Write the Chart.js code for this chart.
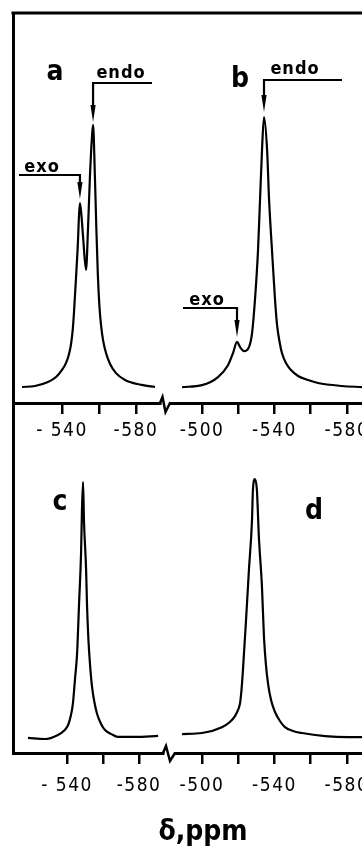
<!DOCTYPE html>
<html>
<head>
<meta charset="utf-8">
<script src="https://cdn.jsdelivr.net/npm/chart.js@4.4.0/dist/chart.umd.min.js"></script>
<style>
  body { margin: 0; background: #fff; width: 362px; height: 850px; position: relative; overflow: hidden; }
  canvas { position: absolute; }
</style>
</head>
<body>
<canvas id="chartA" width="362" height="460" style="left:0;top:0"></canvas>
<canvas id="chartB" width="202" height="460" style="left:160px;top:0"></canvas>
<canvas id="chartC" width="362" height="447" style="left:0;top:403px"></canvas>
<canvas id="chartD" width="199" height="407" style="left:163px;top:403px"></canvas>
<script>
// chemical shift (ppm) and relative intensity
const shiftA = [-518.4, -525.4, -532.4, -536.8, -540.0, -542.2, -543.8, -544.9, -545.8, -546.5, -547.6, -548.6, -549.2, -549.7, -550.5, -551.4, -553.0, -554.1, -555.1, -556.2, -556.8, -557.8, -558.6, -559.4, -560.2, -561.1, -562.2, -563.8, -566.0, -569.2, -574.1, -583.2, -590.3];
const intensityA = [0, 0.4, 1.9, 3.8, 6.5, 9.2, 12.6, 16.4, 21.8, 28.6, 42.0, 55.0, 65.6, 70.2, 65.6, 57.3, 44.7, 61.1, 80.2, 95.4, 100, 80.2, 59.9, 42.7, 31.3, 23.7, 17.9, 13.0, 8.8, 5.3, 2.7, 0.8, 0];

const shiftB = [-489.0, -500.0, -508.8, -514.3, -517.1, -519.3, -521.0, -523.2, -525.9, -527.6, -529.2, -530.9, -532.0, -533.1, -534.2, -535.9, -537.0, -538.6, -540.3, -541.4, -542.8, -544.1, -546.3, -549.1, -553.0, -558.5, -564.0, -577.2, -588.3];
const intensityB = [0, 0.7, 3.7, 8.1, 12.6, 16.7, 14.8, 13.3, 14.8, 20.0, 32.2, 50.7, 69.3, 87.8, 100, 87.8, 69.3, 50.7, 32.2, 23.0, 16.7, 12.6, 8.9, 6.3, 4.1, 2.6, 1.5, 0.4, 0];

const shiftC = [-518.3, -527.8, -535.0, -538.3, -540.6, -542.2, -543.3, -544.4, -545.6, -546.7, -547.8, -548.3, -548.9, -549.4, -550.6, -551.1, -551.9, -552.8, -553.9, -555.3, -556.7, -558.9, -561.1, -564.4, -568.3, -577.8, -590.6];
const intensityC = [-0.4, -0.8, 0.8, 2.4, 4.7, 8.6, 13.3, 22.4, 32.9, 52.5, 72.2, 89.0, 100, 85.1, 65.5, 51.8, 38.0, 28.2, 19.6, 13.3, 9.0, 5.1, 2.7, 1.2, 0, 0, 0.4];

const shiftD = [-489.0, -500.0, -511.0, -515.4, -518.2, -519.9, -521.0, -521.8, -522.6, -524.3, -525.9, -527.6, -528.1, -529.2, -530.3, -531.4, -533.1, -534.2, -535.3, -536.4, -538.1, -540.3, -543.0, -545.8, -550.2, -555.2, -567.9, -580.6, -588.3];
const intensityD = [0.4, 0.8, 3.1, 5.1, 7.4, 9.8, 12.5, 17.6, 25.4, 44.9, 64.5, 84.0, 95.7, 100, 95.7, 77.3, 57.8, 38.3, 27.3, 20.3, 13.7, 9.0, 5.5, 3.1, 1.6, 0.8, -0.4, -0.8, -0.8];

// peak assignments (ppm)
const peaksA = { exo: -549.7, endo: -556.8 };
const peaksB = { exo: -519.3, endo: -534.2 };

// axis ticks
const ticksLeft = [-540, -560, -580];
const tickLabelsLeft = ['- 540', '', '-580'];
const ticksRight = [-500, -520, -540, -560, -580];
const tickLabelsRight = ['-500', '', '-540', '', '-580'];

const ink = '#000';
const family = "'DejaVu Sans Condensed', 'DejaVu Sans'";

function drawArrow(ctx, fromX, lineY, tipX, tipY) {
    const head = 17;
    ctx.lineWidth = 2.2;
    ctx.beginPath();
    ctx.moveTo(fromX, lineY);
    ctx.lineTo(tipX, lineY);
    ctx.lineTo(tipX, tipY - head + 2);
    ctx.stroke();
    ctx.beginPath();
    ctx.moveTo(tipX - 2.6, tipY - head);
    ctx.lineTo(tipX + 2.6, tipY - head);
    ctx.lineTo(tipX, tipY);
    ctx.closePath();
    ctx.fill();
}

// frame lines, axis break, arrows and letters (page coords, shifted by canvas offset)
function makeNotes(p) {
    return {
        id: 'notes',
        beforeDraw(chart) {
            // wider spacing for the tick numbers
            chart.ctx.letterSpacing = '1.5px';
        },
        afterDraw(chart) {
            const ctx = chart.ctx;
            const ox = p.left, oy = p.top;
            ctx.letterSpacing = '0px';
            ctx.save();
            ctx.strokeStyle = ink;
            ctx.fillStyle = ink;
            if (p.topRule) {
                ctx.lineWidth = 3;
                ctx.beginPath();
                ctx.moveTo(chart.chartArea.left - 1.5, chart.chartArea.top);
                ctx.lineTo(chart.width, chart.chartArea.top);
                ctx.stroke();
            }
            if (p.breakMark) {
                ctx.lineWidth = 2.5;
                ctx.lineJoin = 'miter';
                ctx.beginPath();
                p.breakMark.forEach((pt, i) => {
                    if (i === 0) ctx.moveTo(pt[0] - ox, pt[1] - oy);
                    else ctx.lineTo(pt[0] - ox, pt[1] - oy);
                });
                ctx.stroke();
            }
            (p.arrows || []).forEach(a => {
                const tipX = chart.scales.x.getPixelForValue(a.shift);
                drawArrow(ctx, a.fromX - ox, a.lineY - oy, tipX, a.tipY - oy);
            });
            ctx.textAlign = 'center';
            ctx.textBaseline = 'alphabetic';
            (p.texts || []).forEach(t => {
                ctx.font = t.font;
                ctx.letterSpacing = t.spacing || '0px';
                ctx.fillText(t.text, t.x - ox, t.y - oy);
            });
            ctx.restore();
        }
    };
}

function makePanel(p) {
    return new Chart(document.getElementById(p.id), {
        type: 'line',
        data: {
            datasets: [{
                data: p.shift.map((s, i) => ({ x: s, y: p.intensity[i] })),
                borderColor: ink,
                borderWidth: 2.2,
                pointRadius: 0,
                cubicInterpolationMode: 'monotone',
                fill: false
            }]
        },
        options: {
            responsive: false,
            animation: false,
            events: [],
            layout: { padding: p.padding },
            plugins: { legend: { display: false }, tooltip: { enabled: false } },
            scales: {
                x: {
                    type: 'linear',
                    reverse: true,
                    min: p.xMin,
                    max: p.xMax,
                    afterBuildTicks: s => { s.ticks = p.ticks.map(v => ({ value: v })); },
                    afterFit: s => { s.height = 57; s.paddingLeft = 0; s.paddingRight = 0; },
                    grid: { display: true, drawOnChartArea: false, drawTicks: true, tickLength: 11, lineWidth: 2.5, color: ink },
                    border: { display: true, width: 3, color: ink },
                    ticks: {
                        autoSkip: false,
                        maxRotation: 0,
                        color: ink,
                        padding: p.tickPad,
                        font: { family: family, size: 19 },
                        callback: (v, i) => p.tickLabels[i]
                    }
                },
                y: {
                    min: p.yMin,
                    max: p.yMax,
                    afterFit: s => { s.width = 0; s.paddingTop = 0; s.paddingBottom = 0; },
                    ticks: { display: false },
                    grid: { display: false },
                    border: { display: p.leftAxis, width: 3, color: ink }
                }
            }
        },
        plugins: [makeNotes(p)]
    });
}

const letterFont = 'bold 28px ' + family;
const noteFont = 'bold 18px ' + family;

makePanel({
    id: 'chartA', left: 0, top: 0,
    shift: shiftA, intensity: intensityA,
    xMin: -593.0, xMax: -513.5, yMin: -6.1, yMax: 142.7,
    ticks: ticksLeft, tickLabels: tickLabelsLeft, tickPad: 6,
    padding: { left: 13, top: 13, right: 202, bottom: 0 },
    leftAxis: true, topRule: true,
    breakMark: [[160, 403], [162.5, 397], [165.5, 412], [170, 403]],
    arrows: [
        { shift: peaksA.endo, fromX: 152, lineY: 83, tipY: 122 },
        { shift: peaksA.exo, fromX: 19, lineY: 175, tipY: 199 }
    ],
    texts: [
        { text: 'a', x: 55, y: 80, font: letterFont },
        { text: 'endo', x: 121, y: 78, font: noteFont, spacing: '1px' },
        { text: 'exo', x: 42, y: 172, font: noteFont, spacing: '1px' }
    ]
});

makePanel({
    id: 'chartB', left: 160, top: 0,
    shift: shiftB, intensity: intensityB,
    xMin: -588.3, xMax: -482.3, yMin: -5.9, yMax: 138.5,
    ticks: ticksRight, tickLabels: tickLabelsRight, tickPad: 6,
    padding: { left: 10, top: 13, right: 0, bottom: 0 },
    leftAxis: false,
    arrows: [
        { shift: peaksB.endo, fromX: 342, lineY: 80, tipY: 112 },
        { shift: peaksB.exo, fromX: 183, lineY: 308, tipY: 337 }
    ],
    texts: [
        { text: 'b', x: 240, y: 87, font: letterFont },
        { text: 'endo', x: 295, y: 74, font: noteFont, spacing: '1px' },
        { text: 'exo', x: 207, y: 305, font: noteFont, spacing: '1px' }
    ]
});

makePanel({
    id: 'chartC', left: 0, top: 403,
    shift: shiftC, intensity: intensityC,
    xMin: -593.3, xMax: -510.0, yMin: -6.3, yMax: 131.0,
    ticks: ticksLeft, tickLabels: tickLabelsLeft, tickPad: 11,
    padding: { left: 13, top: 0, right: 199, bottom: 40 },
    leftAxis: true,
    breakMark: [[163, 753], [166, 746], [170, 761], [175, 753]],
    texts: [
        { text: 'c', x: 60, y: 510, font: letterFont },
        { text: 'δ,ppm', x: 203, y: 840, font: 'bold 28px ' + family }
    ]
});

makePanel({
    id: 'chartD', left: 163, top: 403,
    shift: shiftD, intensity: intensityD,
    xMin: -588.3, xMax: -485.1, yMin: -7.0, yMax: 129.7,
    ticks: ticksRight, tickLabels: tickLabelsRight, tickPad: 11,
    padding: { left: 12, top: 0, right: 0, bottom: 0 },
    leftAxis: false,
    texts: [
        { text: 'd', x: 314, y: 519, font: letterFont }
    ]
});
</script>
</body>
</html>
